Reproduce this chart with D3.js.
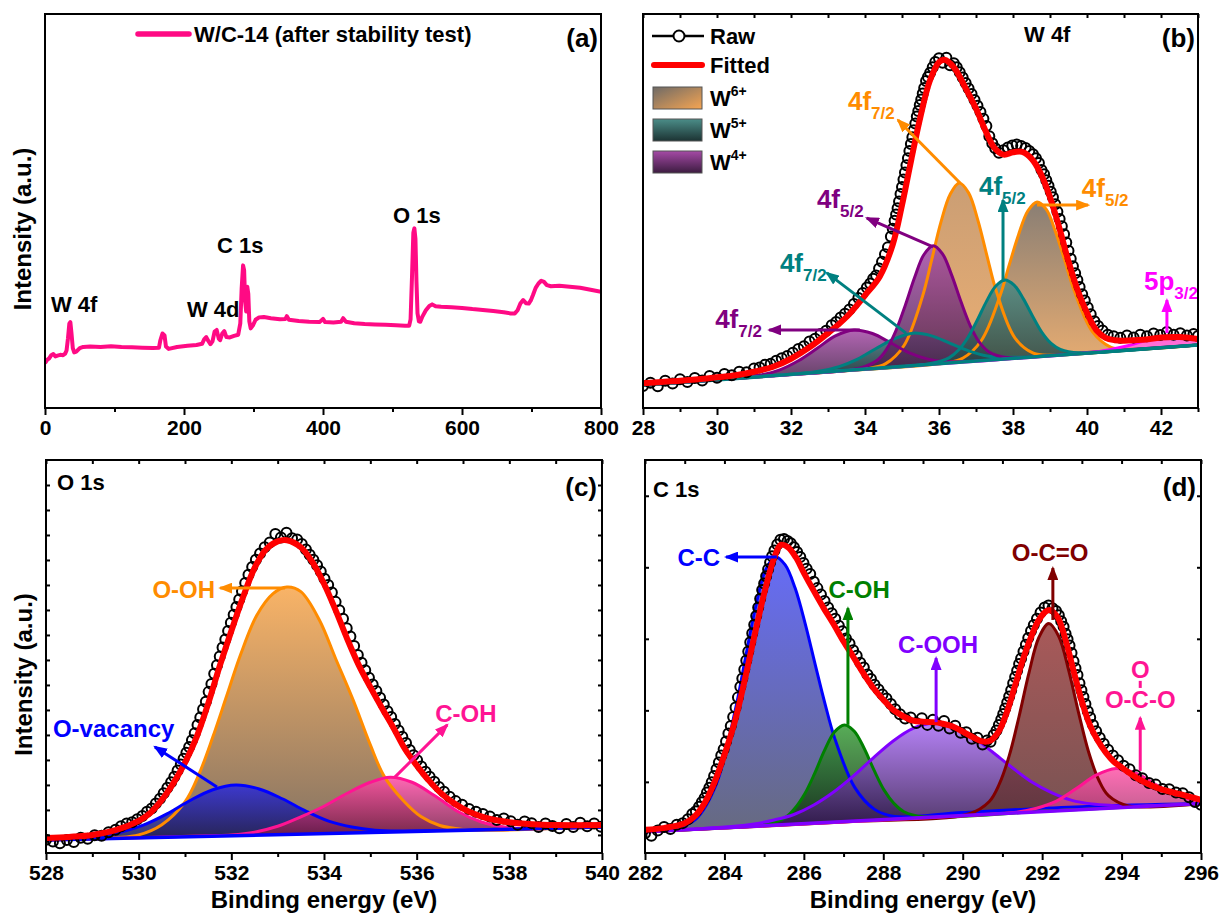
<!DOCTYPE html>
<html lang="en">
<head>
<meta charset="UTF-8">
<title>XPS spectra of W/C-14 after stability test</title>
<script src="https://cdn.jsdelivr.net/npm/d3@7"></script>
<style>
    body { margin: 0; background: #fff; }
    svg { display: block; font-family: "Liberation Sans", Arial, sans-serif; font-weight: bold; }
    .axis line { stroke: #000; stroke-width: 2; }
    .axis text { font-family: "Liberation Sans", Arial, sans-serif; font-size: 21px; font-weight: bold; fill: #000; }
</style>
</head>
<body>
<svg id="chart" width="1226" height="918"></svg>
<script>
// ---------- (a) survey ----------
const surveyTicks = [0, 200, 400, 600, 800];
const surveyMinor = [100, 300, 500, 700];
const survey = [[0,11.4],[3,12.2],[6,12.6],[9,13.4],[12,13.7],[15,13.1],[18,13.3],[22,13.5],[26,13.4],[29,13.8],[31,14.6],[33,17.6],[35,21.4],[36.5,21.8],[38,19.2],[40,15.2],[42,14.1],[45,14.3],[50,15.2],[55,15.5],[65,15.6],[80,15.5],[95,15.7],[110,15.5],[125,15.4],[140,15.3],[155,15.2],[164,15.3],[166,17.2],[169,18.9],[172,18.4],[174,15.6],[178,15.0],[190,15.5],[205,15.8],[218,16.0],[226,16.3],[229,17.4],[232,18.0],[235,17.0],[238,16.2],[241,16.9],[244,19.4],[247,19.8],[250,17.6],[252,17.2],[255,18.9],[258,19.5],[261,18.0],[266,17.9],[272,18.3],[278,18.6],[281,21.5],[283,30.5],[285,36.2],[286.5,35.0],[288,27.0],[289.5,24.5],[291,30.8],[292.5,29.0],[294,22.0],[296,20.2],[299,20.9],[303,22.4],[308,23.0],[315,23.1],[325,22.8],[338,22.5],[346,22.6],[348,23.3],[351,22.4],[365,22.1],[380,21.9],[395,21.8],[400,22.6],[403,21.8],[415,21.7],[426,21.9],[429,22.8],[433,21.9],[445,21.5],[460,21.3],[475,21.2],[490,21.1],[505,21.0],[518,20.9],[524,20.9],[526,22.5],[528,33.0],[530,44.5],[531.5,45.6],[533,43.0],[534.5,32.0],[536,24.0],[538,22.0],[540,21.9],[543,23.2],[548,24.8],[553,25.9],[557,26.3],[562,25.8],[570,25.7],[585,25.6],[600,25.4],[615,25.1],[630,24.9],[645,24.6],[660,24.3],[670,24.0],[676,24.0],[680,24.8],[684,26.5],[688,27.4],[692,26.6],[696,26.5],[699,27.3],[702,28.6],[706,30.5],[710,31.6],[714,32.3],[718,32.0],[722,31.2],[728,30.9],[740,31.0],[755,30.8],[770,30.5],[785,30.0],[800,29.5]];
const surveyPeaks = [["W 4f", 8.6, 24.4], ["W 4d", 204.3, 23.1], ["C 1s", 247.5, 39.3], ["O 1s", 500.7, 47.0]];

// ---------- (b) W 4f ----------
const w4fTicks = [28, 30, 32, 34, 36, 38, 40, 42];
const w4fMinor = [29, 31, 33, 35, 37, 39, 41, 43];
const w4fBase = [[28, 5.8], [43, 16.0]];
const w4fRaw = [[28.0,5.6],[28.2,6.4],[28.4,5.5],[28.6,6.9],[28.8,6.2],[29.0,7.3],[29.2,6.6],[29.4,7.6],[29.6,7.0],[29.8,8.1],[30.0,7.7],[30.2,8.6],[30.4,8.3],[30.6,9.2],[30.8,9.1],[31.0,10.0],[31.15,10.3],[31.3,11.0],[31.45,11.2],[31.6,12.0],[31.75,12.6],[31.9,13.2],[32.05,14.0],[32.2,15.0],[32.35,15.7],[32.5,16.9],[32.65,17.6],[32.8,18.8],[32.95,19.6],[33.1,21.0],[33.22,21.8],[33.34,23.0],[33.46,23.9],[33.58,25.0],[33.7,26.4],[33.82,27.9],[33.94,29.2],[34.05,30.6],[34.14,31.6],[34.22,32.8],[34.3,33.6],[34.38,35.4],[34.46,37.1],[34.54,39.0],[34.62,40.8],[34.7,43.5],[34.75,45.5],[34.8,47.5],[34.84,49.1],[34.88,50.7],[34.92,52.4],[34.96,54.3],[35.0,56.1],[35.04,58.0],[35.08,59.8],[35.12,61.6],[35.16,63.4],[35.2,65.2],[35.24,67.0],[35.28,68.7],[35.32,70.5],[35.36,72.2],[35.4,74.0],[35.44,75.4],[35.48,76.9],[35.52,78.3],[35.56,79.8],[35.6,81.2],[35.65,83.0],[35.7,84.0],[35.76,85.1],[35.83,86.5],[35.9,87.8],[36.0,88.8],[36.1,87.6],[36.2,88.9],[36.3,87.0],[36.4,87.5],[36.48,86.5],[36.56,85.2],[36.64,83.9],[36.72,82.5],[36.8,81.1],[36.88,79.7],[36.96,78.2],[37.04,76.7],[37.12,75.1],[37.2,73.4],[37.28,71.6],[37.36,69.0],[37.44,67.2],[37.52,65.9],[37.62,64.8],[37.74,65.4],[37.86,66.1],[37.98,66.6],[38.1,66.9],[38.22,66.5],[38.34,66.0],[38.44,65.2],[38.54,64.4],[38.62,63.4],[38.7,62.2],[38.77,60.4],[38.84,59.3],[38.9,57.8],[38.96,56.4],[39.02,54.9],[39.08,53.5],[39.14,51.7],[39.2,49.8],[39.26,48.0],[39.32,46.1],[39.38,44.1],[39.44,42.0],[39.5,39.9],[39.56,37.9],[39.62,36.0],[39.68,34.2],[39.74,32.5],[39.8,30.7],[39.87,28.9],[39.94,27.3],[40.02,25.5],[40.1,23.8],[40.2,22.0],[40.3,20.8],[40.42,19.7],[40.56,18.6],[40.72,18.2],[40.9,17.8],[41.08,18.4],[41.26,17.9],[41.44,18.6],[41.62,18.2],[41.8,18.9],[41.98,18.5],[42.16,19.3],[42.34,18.6],[42.52,19.0],[42.7,18.4],[42.88,18.8],[43.0,18.3]];
const w4fFit = [[28.0,6.3],[28.5,6.6],[29.0,6.9],[29.5,7.3],[30.0,7.8],[30.5,8.3],[31.0,9.2],[31.5,10.4],[32.0,12.5],[32.5,15.4],[33.0,19.0],[33.5,23.1],[34.0,28.6],[34.4,33.4],[34.75,41.5],[35.0,51.5],[35.25,63.0],[35.5,74.0],[35.75,83.0],[36.0,87.8],[36.15,88.4],[36.4,86.5],[36.7,81.5],[37.0,76.0],[37.25,70.5],[37.5,66.0],[37.75,64.3],[38.0,64.9],[38.25,65.0],[38.5,63.3],[38.75,59.5],[39.0,53.5],[39.25,45.8],[39.5,37.2],[39.75,29.8],[40.0,24.1],[40.25,19.8],[40.5,17.8],[40.75,17.2],[41.0,17.1],[41.5,17.3],[42.0,17.9],[42.5,18.0],[43.0,17.5]];
const w6Plus72 = [[28,5.8],[32,8.5],[34.05,10.0],[34.55,11.2],[35.05,15.8],[35.55,28.2],[35.8,37.5],[36.05,47.1],[36.3,54.2],[36.55,57.1],[36.8,54.6],[37.05,47.7],[37.3,38.5],[37.55,29.6],[38.05,17.8],[38.55,13.9],[39.05,13.4],[41,14.6],[43,16.0]];
const w6Plus52 = [[28,5.8],[33,9.2],[36.15,11.4],[36.65,12.7],[37.15,17.2],[37.65,28.5],[37.9,36.4],[38.15,44.0],[38.4,50.0],[38.65,52.3],[38.9,50.4],[39.15,44.7],[39.4,37.4],[39.65,29.9],[40.15,19.3],[40.65,15.4],[41.15,14.9],[43,16.0]];
const w5Plus72 = [[28,5.8],[30.3,7.4],[32.3,8.8],[32.8,9.4],[33.3,10.5],[33.8,12.4],[34.3,15.1],[34.8,17.6],[35.3,19.0],[35.8,18.3],[36.3,16.4],[36.8,14.5],[37.3,13.2],[37.8,12.9],[38.3,12.9],[40.5,14.2],[43,16.0]];
const w5Plus52 = [[28,5.8],[33,9.2],[35.78,11.3],[36.28,12.8],[36.53,14.7],[36.78,17.9],[37.03,22.2],[37.28,27.0],[37.53,30.9],[37.78,32.5],[38.03,31.2],[38.28,27.7],[38.53,23.3],[38.78,19.2],[39.03,16.4],[39.28,14.9],[39.78,14.0],[41.5,15.0],[43,16.0]];
const w4Plus72 = [[28,5.8],[29.5,6.8],[30.7,8.0],[31.2,8.4],[31.7,9.7],[32.2,12.0],[32.7,15.1],[33.2,18.3],[33.7,19.8],[34.2,18.9],[34.7,16.5],[35.2,14.0],[35.7,12.4],[36.2,11.8],[36.7,11.8],[39,13.3],[43,16.0]];
const w4Plus52 = [[28,5.8],[31.5,8.2],[33.84,10.1],[34.34,12.2],[34.59,15.0],[34.84,19.7],[35.09,26.1],[35.34,33.1],[35.59,38.9],[35.84,41.2],[36.09,39.2],[36.34,33.8],[36.59,27.1],[36.84,21.0],[37.09,16.7],[37.34,14.3],[37.84,12.8],[40,14.1],[43,16.0]];
const w5p32 = [[28,5.8],[36,11.2],[40.1,14.1],[40.6,14.8],[41.1,15.8],[41.6,17.1],[42.1,17.9],[42.6,17.8],[43.0,17.3]];
const w4fNotes = [
    { key: "w6", main: "4f", sub: "7/2", at: [33.54, 75.6], from: [36.57, 57.1], to: [34.89, 73.1] },
    { key: "w5", main: "4f", sub: "5/2", at: [37.08, 54.1], from: [37.73, 32.0], to: [37.73, 52.8] },
    { key: "w6", main: "4f", sub: "5/2", at: [39.86, 53.6], from: [38.65, 51.5], to: [40.03, 51.5] },
    { key: "w4", main: "4f", sub: "5/2", at: [32.70, 50.8], from: [35.84, 40.9], to: [34.05, 48.2] },
    { key: "w5", main: "4f", sub: "7/2", at: [31.70, 34.5], from: [35.11, 19.0], to: [32.97, 34.3] },
    { key: "w4", main: "4f", sub: "7/2", at: [29.95, 20.3], from: [33.86, 19.8], to: [31.41, 19.8] },
    { key: "p5", main: "5p", sub: "3/2", at: [41.54, 29.9], from: [42.16, 19.0], to: [42.16, 27.4] }
];

// ---------- (c) O 1s ----------
const o1sTicks = [528, 530, 532, 534, 536, 538, 540];
const o1sMinor = [529, 531, 533, 535, 537, 539];
const o1sBase = [[528, 3.3], [540, 6.6]];
const o1sRaw = [[528.0,3.4],[528.15,2.9],[528.3,2.5],[528.45,3.3],[528.6,2.8],[528.75,3.9],[528.9,3.6],[529.05,4.5],[529.2,4.4],[529.35,5.3],[529.5,5.9],[529.62,6.8],[529.74,7.5],[529.86,7.8],[529.97,8.6],[530.08,9.4],[530.18,10.5],[530.28,11.3],[530.37,12.6],[530.46,13.8],[530.54,15.2],[530.62,16.6],[530.7,18.0],[530.77,19.4],[530.84,21.0],[530.91,22.5],[530.97,24.0],[531.03,25.5],[531.09,27.0],[531.15,28.7],[531.21,30.5],[531.27,32.6],[531.33,34.5],[531.39,36.6],[531.45,38.5],[531.51,41.0],[531.57,43.0],[531.63,45.6],[531.69,47.8],[531.75,50.0],[531.81,52.3],[531.87,54.3],[531.93,56.5],[531.99,58.6],[532.05,60.6],[532.11,62.6],[532.17,64.5],[532.23,66.6],[532.3,68.7],[532.37,70.8],[532.45,72.8],[532.53,74.6],[532.62,76.2],[532.72,77.8],[532.83,79.0],[532.95,81.2],[533.07,80.3],[533.19,81.5],[533.31,80.1],[533.42,79.8],[533.52,78.6],[533.61,77.2],[533.69,75.9],[533.77,74.6],[533.85,73.2],[533.93,71.6],[534.01,69.8],[534.09,68.2],[534.17,66.3],[534.25,63.9],[534.33,61.8],[534.41,59.6],[534.49,57.2],[534.57,55.1],[534.65,52.7],[534.73,50.4],[534.81,48.4],[534.89,46.5],[534.97,44.6],[535.05,42.9],[535.13,41.2],[535.21,39.5],[535.29,37.8],[535.37,36.1],[535.45,34.6],[535.53,32.8],[535.61,31.2],[535.69,29.6],[535.77,28.0],[535.85,26.2],[535.93,24.9],[536.01,23.6],[536.1,22.0],[536.19,20.7],[536.28,19.4],[536.38,18.1],[536.48,16.8],[536.59,15.6],[536.71,14.3],[536.84,13.2],[536.98,12.3],[537.13,11.2],[537.28,10.5],[537.43,9.9],[537.58,9.3],[537.73,8.4],[537.88,8.8],[538.03,8.1],[538.18,7.2],[538.33,8.0],[538.48,7.6],[538.63,6.6],[538.78,7.5],[538.93,6.9],[539.08,6.3],[539.23,7.4],[539.38,6.6],[539.53,7.7],[539.68,6.8],[539.83,7.5],[539.98,6.7]];
const o1sFit = [[528.0,3.8],[528.5,4.1],[529.0,4.6],[529.5,5.8],[530.0,8.2],[530.25,10.2],[530.5,13.5],[530.75,17.8],[531.0,23.0],[531.25,29.5],[531.5,38.0],[531.75,47.6],[532.0,56.5],[532.25,65.0],[532.5,72.5],[532.75,77.3],[533.0,79.3],[533.2,79.6],[533.5,77.8],[533.75,74.0],[534.0,68.5],[534.25,61.8],[534.5,54.5],[534.75,47.8],[535.0,42.2],[535.25,36.9],[535.5,31.8],[535.75,26.4],[536.0,22.3],[536.25,18.6],[536.5,15.5],[536.75,13.1],[537.0,11.3],[537.25,9.9],[537.5,8.9],[538.0,7.8],[538.5,7.3],[539.0,7.1],[540.0,7.1]];
const oOH = [[528,3.3],[529.5,3.9],[530.0,4.6],[530.5,7.2],[531.0,13.0],[531.3,20.0],[531.6,29.5],[531.9,40.0],[532.2,50.5],[532.55,60.5],[532.9,66.0],[533.2,67.7],[533.5,66.5],[533.9,59.3],[534.25,49.5],[534.63,38.9],[535.0,27.5],[535.3,19.5],[535.7,13.5],[536.1,9.2],[536.5,7.0],[537.0,6.0],[537.5,5.8],[540,6.6]];
const oVacancy = [[528,3.3],[528.6,3.8],[529.1,4.3],[529.6,5.3],[530.1,7.1],[530.6,9.9],[531.1,13.3],[531.6,16.1],[532.1,17.3],[532.6,16.3],[533.1,13.8],[533.6,10.7],[534.1,8.1],[534.6,6.6],[535.1,5.8],[535.6,5.6],[537.5,6.0],[540,6.6]];
const oCOH = [[528,3.3],[530,3.9],[531.5,4.4],[532.0,4.6],[532.5,5.3],[533.0,6.8],[533.5,9.2],[534.0,11.9],[534.5,15.2],[535.0,18.0],[535.43,19.3],[535.9,18.0],[536.4,14.5],[536.9,10.5],[537.4,7.9],[537.9,6.6],[538.4,6.2],[539.0,6.3],[540,6.6]];
const o1sNotes = [
    { key: "ooh", text: "O-OH", anchor: "end", at: [531.65, 64.9], from: [533.16, 67.4], to: [531.76, 67.4] },
    { key: "ovac", text: "O-vacancy", anchor: "start", at: [528.15, 29.5], from: [531.69, 16.8], to: [530.35, 27.0] },
    { key: "coh", text: "C-OH", anchor: "start", at: [536.40, 33.3], from: [535.53, 19.3], to: [536.66, 32.6] }
];

// ---------- (d) C 1s ----------
const c1sTicks = [282, 284, 286, 288, 290, 292, 294, 296];
const c1sMinor = [283, 285, 287, 289, 291, 293, 295];
const c1sBase = [[282, 5.4], [296, 12.6]];
const c1sRaw = [[282.0,5.0],[282.16,4.4],[282.32,5.7],[282.48,6.6],[282.64,6.1],[282.8,7.2],[282.95,7.6],[283.08,8.6],[283.19,9.9],[283.28,10.6],[283.36,11.8],[283.43,12.9],[283.5,14.0],[283.56,15.4],[283.62,16.6],[283.68,18.0],[283.74,19.6],[283.8,21.3],[283.86,23.0],[283.92,24.8],[283.98,26.4],[284.04,28.4],[284.1,30.4],[284.16,32.3],[284.22,34.6],[284.28,37.0],[284.34,39.6],[284.4,42.3],[284.45,44.4],[284.5,46.7],[284.55,49.0],[284.6,51.3],[284.65,53.6],[284.7,55.9],[284.75,58.1],[284.8,60.3],[284.85,62.5],[284.9,64.7],[284.95,66.9],[285.0,68.6],[285.05,70.4],[285.1,72.2],[285.15,73.9],[285.2,75.5],[285.26,77.0],[285.33,78.5],[285.41,79.7],[285.5,79.9],[285.59,79.4],[285.67,78.8],[285.75,77.8],[285.83,76.6],[285.91,75.3],[285.99,73.8],[286.07,72.3],[286.16,71.0],[286.25,69.0],[286.34,67.4],[286.43,65.8],[286.52,64.1],[286.61,62.5],[286.7,61.0],[286.79,59.6],[286.88,57.8],[286.97,56.4],[287.06,54.6],[287.15,53.3],[287.24,51.6],[287.33,50.2],[287.42,48.4],[287.51,47.2],[287.6,45.4],[287.69,44.3],[287.78,42.8],[287.88,41.6],[287.98,40.3],[288.08,39.3],[288.19,37.9],[288.3,36.6],[288.42,35.3],[288.55,34.2],[288.69,34.5],[288.83,33.1],[288.97,34.3],[289.11,32.6],[289.25,33.9],[289.39,32.4],[289.53,33.6],[289.67,31.7],[289.81,32.4],[289.95,30.6],[290.09,30.7],[290.23,29.1],[290.37,29.3],[290.5,27.6],[290.61,28.6],[290.7,28.3],[290.78,30.0],[290.85,31.2],[290.91,32.6],[290.97,34.0],[291.02,35.4],[291.07,36.8],[291.12,38.3],[291.17,39.8],[291.22,41.4],[291.27,43.2],[291.32,44.8],[291.37,46.4],[291.42,48.1],[291.47,49.5],[291.53,51.3],[291.59,53.0],[291.65,54.7],[291.72,56.5],[291.79,58.0],[291.87,59.6],[291.96,61.2],[292.06,62.5],[292.16,63.0],[292.26,62.3],[292.35,61.6],[292.42,60.5],[292.48,59.0],[292.54,57.6],[292.59,55.8],[292.64,54.4],[292.69,52.8],[292.74,50.9],[292.79,48.8],[292.84,47.0],[292.89,45.3],[292.94,43.2],[292.99,41.4],[293.04,39.7],[293.09,37.9],[293.15,36.1],[293.21,34.5],[293.28,32.6],[293.36,31.0],[293.45,29.3],[293.55,27.8],[293.66,26.3],[293.78,24.8],[293.91,23.6],[294.05,22.2],[294.2,21.3],[294.36,19.8],[294.52,19.0],[294.69,17.8],[294.86,17.4],[295.03,16.3],[295.2,16.2],[295.37,15.4],[295.54,15.2],[295.7,14.2],[295.85,13.0],[296.0,12.3]];
const c1sFit = [[282.0,5.9],[282.5,6.4],[283.0,7.6],[283.25,9.3],[283.5,12.7],[283.75,18.0],[284.0,25.0],[284.25,33.0],[284.5,43.5],[284.75,55.0],[285.0,66.0],[285.25,75.0],[285.42,78.4],[285.6,77.8],[285.8,75.2],[286.0,71.3],[286.25,66.7],[286.5,62.3],[286.75,58.2],[287.0,53.8],[287.25,49.8],[287.5,45.7],[287.75,42.0],[288.0,39.0],[288.25,36.4],[288.5,34.8],[288.75,33.7],[289.0,33.4],[289.25,33.3],[289.5,32.9],[289.75,32.2],[290.0,30.9],[290.25,29.5],[290.5,28.4],[290.7,28.6],[290.9,30.8],[291.1,35.5],[291.3,42.0],[291.5,48.7],[291.7,54.4],[291.9,59.0],[292.1,61.5],[292.2,61.8],[292.4,59.8],[292.6,53.8],[292.8,46.0],[293.0,38.6],[293.2,32.6],[293.4,28.6],[293.6,25.6],[293.8,23.3],[294.0,21.8],[294.25,20.0],[294.5,18.4],[294.75,17.2],[295.0,16.2],[295.5,14.9],[296.0,13.5]];
const cCC = [[282,5.4],[282.78,6.2],[283.28,8.6],[283.78,17.1],[284.28,36.7],[284.53,49.7],[284.78,62.4],[285.03,71.9],[285.28,75.4],[285.53,73.3],[285.78,67.4],[286.03,58.5],[286.28,48.2],[286.53,38.1],[286.78,29.1],[287.28,16.7],[287.78,11.1],[288.28,9.3],[290,10.3],[293,11.8],[296,12.6]];
const cCOH = [[282,5.4],[284,6.4],[285.02,7.2],[285.52,8.9],[285.77,11.3],[286.02,15.0],[286.27,20.2],[286.52,26.1],[286.77,30.8],[287.02,32.6],[287.27,31.0],[287.52,26.6],[287.77,21.0],[288.02,16.0],[288.27,12.6],[288.52,10.5],[289.02,9.2],[292,10.6],[296,12.6]];
const cCOOH = [[282,5.4],[284.25,6.8],[284.75,7.4],[285.25,8.4],[285.75,9.8],[286.25,12.2],[286.75,15.5],[287.25,19.6],[287.75,24.2],[288.25,28.5],[288.75,31.7],[289.25,33.0],[289.75,32.2],[290.25,29.6],[290.75,25.7],[291.25,21.7],[291.75,18.0],[292.25,15.3],[292.75,13.4],[293.25,12.5],[293.75,12.1],[294.25,11.9],[296,12.6]];
const cOCdO = [[282,5.4],[287,7.9],[290.17,10.0],[290.67,13.1],[290.92,17.5],[291.17,24.7],[291.42,34.8],[291.67,45.9],[291.92,54.9],[292.17,58.4],[292.42,55.1],[292.67,46.4],[292.92,35.6],[293.17,25.7],[293.42,18.7],[293.67,14.6],[294.17,12.0],[296,12.6]];
const cCO3 = [[282,5.4],[288,8.4],[291.36,10.4],[291.86,11.4],[292.36,13.2],[292.86,16.4],[293.36,19.8],[293.86,21.5],[294.36,20.3],[294.86,17.4],[295.36,14.8],[295.86,13.4],[296.0,13.2]];
const c1sNotes = [
    { key: "cc", text: "C-C", anchor: "end", at: [283.89, 73.0], from: [285.32, 75.3], to: [284.04, 75.3] },
    { key: "cohd", text: "C-OH", anchor: "middle", at: [287.39, 64.9], from: [287.11, 32.6], to: [287.11, 62.3] },
    { key: "cooh", text: "C-OOH", anchor: "middle", at: [289.38, 50.9], from: [289.33, 33.3], to: [289.33, 49.6] },
    { key: "oco", text: "O-C=O", anchor: "middle", at: [292.2, 74.3], from: [292.27, 59.3], to: [292.27, 72.5] },
    { key: "co3", text: "O-C-O", anchor: "middle", at: [294.47, 36.9], from: [294.47, 20.9], to: [294.47, 34.4] }
];

// ---------- drawing ----------
const COL = {
    w6: "#ff8c00", w5: "#008080", w4: "#800080", p5: "#ff00ff",
    ooh: "#ff8c00", ovac: "#0000ff", coh: "#ff1493",
    cc: "#0000ff", cohd: "#008000", cooh: "#8000ff", oco: "#800000", co3: "#ff1493"
};

const svg = d3.select("#chart");
const defs = svg.append("defs");

function grad(id, top, bottom, diag) {
    const g = defs.append("linearGradient").attr("id", id)
        .attr("x1", 0).attr("y1", 0).attr("x2", diag ? 1 : 0).attr("y2", 1);
    g.append("stop").attr("offset", "0%").attr("stop-color", top);
    g.append("stop").attr("offset", "100%").attr("stop-color", bottom);
}
grad("gW6a", "#c18d5c", "#eaa25a");
grad("gW6b", "#75685c", "#f2a558");
grad("gW6leg", "#6e6a66", "#f6a552", true);
grad("gW5", "#4b8d88", "#1c3333");
grad("gW4", "#a54aa6", "#3c1c40");
grad("gP5", "#ff4dd2", "#ff80c0");
grad("gOOH", "#f8a64c", "#6e5a48");
grad("gOvac", "#2c2ce0", "#161650");
grad("gCOHc", "#ff4da6", "#6a1840");
grad("gCC", "#4b52f6", "#4c506a");
grad("gCOHd", "#3a9e3a", "#0c260c");
grad("gCOOH", "#a86cf4", "#2e1248");
grad("gOCO", "#9a3c3c", "#5c3434");
grad("gCO3", "#ff55a8", "#9a3a6a");

function arrowHead(color) {
    const id = "ah" + color.slice(1);
    if (defs.select("#" + id).empty()) {
        defs.append("marker").attr("id", id)
            .attr("viewBox", "0 0 14 11").attr("refX", 12).attr("refY", 5.5)
            .attr("markerWidth", 14).attr("markerHeight", 11)
            .attr("markerUnits", "userSpaceOnUse").attr("orient", "auto")
            .append("path").attr("d", "M0,0L14,5.5L0,11Z").attr("fill", color);
    }
    return `url(#${id})`;
}

function setupPanel(p) {
    const x = d3.scaleLinear().domain(p.domain).range([p.x0, p.x1]);
    const y = d3.scaleLinear().domain([0, 100]).range([p.y1, p.y0]);
    defs.append("clipPath").attr("id", "clip-" + p.id)
        .append("rect").attr("x", p.x0).attr("y", p.y0)
        .attr("width", p.x1 - p.x0).attr("height", p.y1 - p.y0);
    const g = svg.append("g");
    const plot = g.append("g").attr("clip-path", `url(#clip-${p.id})`);
    return { x, y, g, plot };
}

function xAxes(g, x, p, major, minor) {
    g.append("g").attr("class", "axis").attr("transform", `translate(0,${p.y1})`)
        .call(d3.axisBottom(x).tickValues(major).tickSize(7).tickPadding(5).tickFormat(d3.format("d")))
        .call(a => a.select(".domain").remove());
    g.append("g").attr("class", "axis").attr("transform", `translate(0,${p.y1})`)
        .call(d3.axisBottom(x).tickValues(minor).tickSize(4).tickFormat(""))
        .call(a => a.select(".domain").remove());
}

function topTicks(g, x, p, values) {
    g.append("g").attr("class", "axis").attr("transform", `translate(0,${p.y0})`)
        .call(d3.axisTop(x).tickValues(values).tickSize(-4).tickFormat(""))
        .call(a => a.select(".domain").remove());
}

function sideTicks(g, y, p, values) {
    g.append("g").attr("class", "axis").attr("transform", `translate(${p.x0},0)`)
        .call(d3.axisRight(y).tickValues(values).tickSize(4).tickFormat(""))
        .call(a => a.select(".domain").remove());
    g.append("g").attr("class", "axis").attr("transform", `translate(${p.x1},0)`)
        .call(d3.axisLeft(y).tickValues(values).tickSize(4).tickFormat(""))
        .call(a => a.select(".domain").remove());
}

function frame(g, p) {
    g.append("rect").attr("x", p.x0).attr("y", p.y0)
        .attr("width", p.x1 - p.x0).attr("height", p.y1 - p.y0)
        .attr("fill", "none").attr("stroke", "#000").attr("stroke-width", 2);
}

function label(g, txt, x, y, size, anchor, color) {
    return g.append("text").attr("x", x).attr("y", y)
        .attr("font-size", size).attr("text-anchor", anchor || "start")
        .attr("fill", color || "#000").text(txt);
}

function yTitle(g, p) {
    g.append("text").attr("transform", `translate(${p.x0 - 14},${(p.y0 + p.y1) / 2 + 18}) rotate(-90)`)
        .attr("text-anchor", "middle").attr("font-size", 24).text("Intensity (a.u.)");
}

function xTitle(g, p) {
    label(g, "Binding energy (eV)", (p.x0 + p.x1) / 2, 908, 24, "middle");
}

// fitted XPS panel: components, baseline, raw circles, fitted envelope
function drawFit(ctx, spec) {
    const { x, y, plot } = ctx;
    const base = d3.scaleLinear().domain(spec.base.map(d => d[0])).range(spec.base.map(d => d[1]));
    const curve = d3.curveCatmullRom.alpha(0.5);
    const area = d3.area().curve(curve).x(d => x(d[0])).y0(d => y(base(d[0]))).y1(d => y(d[1]));
    const line = d3.line().curve(curve).x(d => x(d[0])).y(d => y(d[1]));

    plot.selectAll(null).data(spec.peaks).join("path")
        .attr("d", d => area(d.data)).attr("fill", d => `url(#${d.grad})`).attr("fill-opacity", 0.85);
    plot.selectAll(null).data(spec.peaks).join("path")
        .attr("d", d => line(d.data)).attr("fill", "none")
        .attr("stroke", d => d.color).attr("stroke-width", 3).attr("stroke-linejoin", "round");
    plot.append("path").attr("d", line(spec.base)).attr("fill", "none")
        .attr("stroke", spec.baseColor).attr("stroke-width", 3.5);
    plot.selectAll(null).data(spec.raw).join("circle")
        .attr("cx", d => x(d[0])).attr("cy", d => y(d[1])).attr("r", 5)
        .attr("fill", "none").attr("stroke", "#000").attr("stroke-width", 2);
    plot.append("path").attr("d", line(spec.fit)).attr("fill", "none")
        .attr("stroke", "#ff0000").attr("stroke-width", 6).attr("stroke-linejoin", "round");
}

function drawArrow(g, x, y, n) {
    const c = COL[n.key];
    g.append("line")
        .attr("x1", x(n.from[0])).attr("y1", y(n.from[1]))
        .attr("x2", x(n.to[0])).attr("y2", y(n.to[1]))
        .attr("stroke", c).attr("stroke-width", 3).attr("marker-end", arrowHead(c));
}

// ---- panel (a)
const pA = { id: "a", x0: 45, x1: 601, y0: 14, y1: 408, domain: [0, 800] };
const A = setupPanel(pA);
A.plot.append("path").datum(survey)
    .attr("d", d3.line().x(d => A.x(d[0])).y(d => A.y(d[1])))
    .attr("fill", "none").attr("stroke", "#ff0a84").attr("stroke-width", 4).attr("stroke-linejoin", "round");
surveyPeaks.forEach(d => label(A.g, d[0], A.x(d[1]), A.y(d[2]), 22));
xAxes(A.g, A.x, pA, surveyTicks, surveyMinor);
frame(A.g, pA);
yTitle(A.g, pA);
A.g.append("line").attr("x1", 138).attr("x2", 189).attr("y1", 34).attr("y2", 34)
    .attr("stroke", "#ff0a84").attr("stroke-width", 5.5).attr("stroke-linecap", "round");
label(A.g, "W/C-14 (after stability test)", 194, 42, 22);
label(A.g, "(a)", 598, 47, 26, "end");

// ---- panel (b)
const pB = { id: "b", x0: 643, x1: 1198, y0: 14, y1: 408, domain: [28, 43] };
const B = setupPanel(pB);
drawFit(B, {
    base: w4fBase, baseColor: COL.w5, raw: w4fRaw, fit: w4fFit,
    peaks: [
        { data: w6Plus72, grad: "gW6a", color: COL.w6 },
        { data: w6Plus52, grad: "gW6b", color: COL.w6 },
        { data: w4Plus72, grad: "gW4", color: COL.w4 },
        { data: w5Plus72, grad: "gW5", color: COL.w5 },
        { data: w4Plus52, grad: "gW4", color: COL.w4 },
        { data: w5Plus52, grad: "gW5", color: COL.w5 },
        { data: w5p32, grad: "gP5", color: COL.p5 }
    ]
});
w4fNotes.forEach(n => {
    drawArrow(B.g, B.x, B.y, n);
    const t = label(B.g, n.main, B.x(n.at[0]), B.y(n.at[1]), 26, "start", COL[n.key]);
    t.append("tspan").attr("dy", 9).attr("font-size", 17).text(n.sub);
});
xAxes(B.g, B.x, pB, w4fTicks, w4fMinor);
topTicks(B.g, B.x, pB, w4fTicks.concat(w4fMinor));
frame(B.g, pB);
label(B.g, "W 4f", 1024, 42, 22);
label(B.g, "(b)", 1195, 47, 26, "end");

// legend (b)
B.g.append("line").attr("x1", 652).attr("x2", 704).attr("y1", 36).attr("y2", 36)
    .attr("stroke", "#000").attr("stroke-width", 2.5);
B.g.append("circle").attr("cx", 679).attr("cy", 36).attr("r", 5.5)
    .attr("fill", "#fff").attr("stroke", "#000").attr("stroke-width", 2);
label(B.g, "Raw", 710, 44, 22);
B.g.append("line").attr("x1", 654).attr("x2", 702).attr("y1", 65).attr("y2", 65)
    .attr("stroke", "#ff0000").attr("stroke-width", 6).attr("stroke-linecap", "round");
label(B.g, "Fitted", 710, 73, 22);
[["gW6leg", "6+", 87], ["gW5", "5+", 119], ["gW4", "4+", 151]].forEach(([gid, sup, top]) => {
    B.g.append("rect").attr("x", 653).attr("y", top).attr("width", 49).attr("height", 22)
        .attr("fill", `url(#${gid})`).attr("stroke", "#555").attr("stroke-width", 1);
    const t = label(B.g, "W", 710, top + 19, 22);
    t.append("tspan").attr("dy", -10).attr("font-size", 14).text(sup);
});

// ---- panel (c)
const pC = { id: "c", x0: 46, x1: 602, y0: 460, y1: 853, domain: [528, 540] };
const C = setupPanel(pC);
drawFit(C, {
    base: o1sBase, baseColor: COL.ovac, raw: o1sRaw, fit: o1sFit,
    peaks: [
        { data: oOH, grad: "gOOH", color: COL.ooh },
        { data: oVacancy, grad: "gOvac", color: COL.ovac },
        { data: oCOH, grad: "gCOHc", color: COL.coh }
    ]
});
o1sNotes.forEach(n => {
    drawArrow(C.g, C.x, C.y, n);
    label(C.g, n.text, C.x(n.at[0]), C.y(n.at[1]), 24, n.anchor, COL[n.key]);
});
xAxes(C.g, C.x, pC, o1sTicks, o1sMinor);
topTicks(C.g, C.x, pC, o1sTicks.concat(o1sMinor));
sideTicks(C.g, C.y, pC, d3.range(4.6, 100, 6.36));
frame(C.g, pC);
yTitle(C.g, pC);
xTitle(C.g, pC);
label(C.g, "O 1s", 57, 490, 22);
label(C.g, "(c)", 597, 496, 26, "end");

// ---- panel (d)
const pD = { id: "d", x0: 645, x1: 1201, y0: 460, y1: 853, domain: [282, 296] };
const D = setupPanel(pD);
drawFit(D, {
    base: c1sBase, baseColor: COL.cooh, raw: c1sRaw, fit: c1sFit,
    peaks: [
        { data: cCC, grad: "gCC", color: COL.cc },
        { data: cCOH, grad: "gCOHd", color: COL.cohd },
        { data: cCOOH, grad: "gCOOH", color: COL.cooh },
        { data: cOCdO, grad: "gOCO", color: COL.oco },
        { data: cCO3, grad: "gCO3", color: COL.co3 }
    ]
});
c1sNotes.forEach(n => {
    drawArrow(D.g, D.x, D.y, n);
    label(D.g, n.text, D.x(n.at[0]), D.y(n.at[1]), 24, n.anchor, COL[n.key]);
});
// carbonate: the double-bonded O drawn above the central C
const co3 = c1sNotes[4];
label(D.g, "O", D.x(co3.at[0]), D.y(44.5), 24, "middle", COL.co3);
D.g.append("line").attr("x1", D.x(co3.at[0])).attr("x2", D.x(co3.at[0]))
    .attr("y1", D.y(43.8)).attr("y2", D.y(42.0))
    .attr("stroke", COL.co3).attr("stroke-width", 3);
xAxes(D.g, D.x, pD, c1sTicks, c1sMinor);
topTicks(D.g, D.x, pD, c1sTicks.concat(c1sMinor));
sideTicks(D.g, D.y, pD, d3.range(18.1, 100, 18.2));
frame(D.g, pD);
xTitle(D.g, pD);
label(D.g, "C 1s", 653, 497, 22);
label(D.g, "(d)", 1196, 496, 26, "end");
</script>
</body>
</html>
